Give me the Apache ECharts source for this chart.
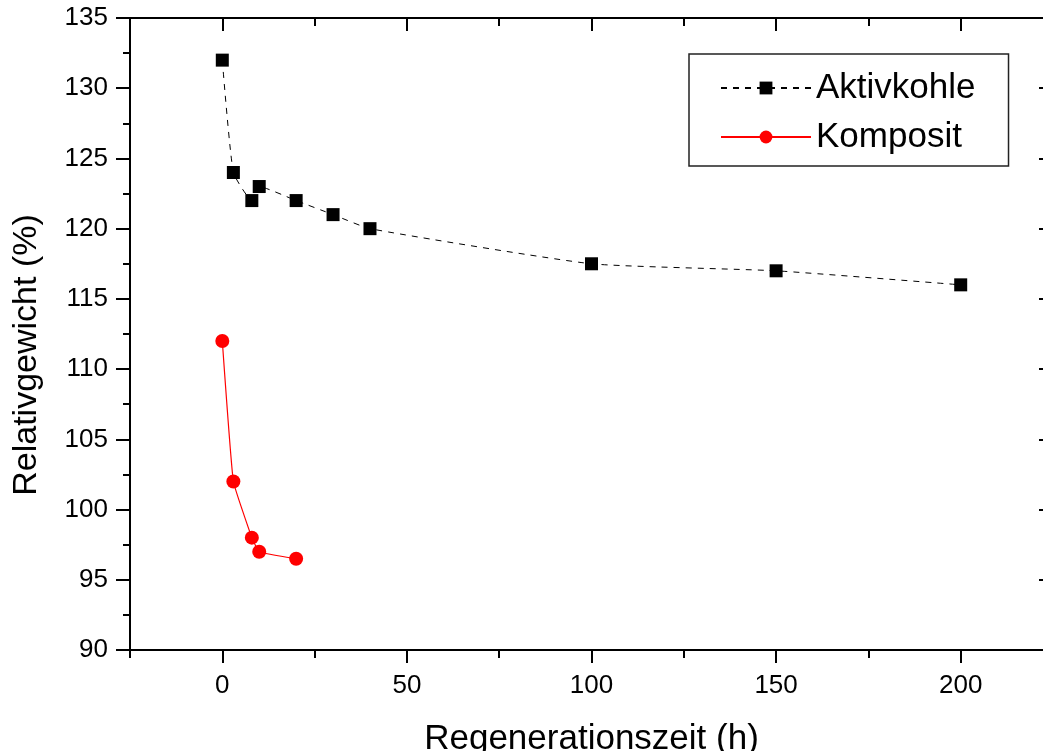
<!DOCTYPE html>
<html>
<head>
<meta charset="utf-8">
<script src="https://cdn.jsdelivr.net/npm/echarts@6/dist/echarts.min.js"></script>
<style>
  html, body { margin: 0; padding: 0; background: #fff; }
  #chart { width: 1043px; height: 751px; }
</style>
</head>
<body>
<div id="chart"></div>
<script>
// Regeneration time (h) and relative weight (%) for both materials
const aktivkohleTime   = [0, 3, 8, 10, 20, 30, 40, 100, 150, 200];
const aktivkohleWeight = [132, 124, 122, 123, 122, 121, 120, 117.5, 117, 116];
const kompositTime     = [0, 3, 8, 10, 20];
const kompositWeight   = [112, 102, 98, 97, 96.5];

const xMajorTicks = [0, 50, 100, 150, 200];
const xMinorTicks = [-25, 25, 75, 125, 175, 225];

const FONT = '"Liberation Sans", Arial, sans-serif';

const pairs = (xs, ys) => xs.map((x, i) => [x, ys[i]]);

const lineStyle = { color: '#000', width: 2 };
const xBase = { type: 'value', min: -25, max: 225, gridIndex: 0, splitLine: { show: false } };

const chart = echarts.init(document.getElementById('chart'));
chart.setOption({
  animation: false,
  backgroundColor: '#fff',
  textStyle: { fontFamily: FONT },
  grid: { left: 130, right: -10, top: 18, bottom: 101, containLabel: false, outerBoundsMode: 'none' },
  xAxis: [
    { ...xBase, position: 'bottom',
      name: 'Regenerationszeit (h)', nameLocation: 'middle', nameGap: 72,
      nameTextStyle: { fontSize: 35, color: '#000', fontFamily: FONT },
      axisLine: { show: true, onZero: false, lineStyle },
      axisTick: { show: true, inside: false, length: 13, customValues: xMajorTicks, lineStyle },
      axisLabel: { show: true, customValues: xMajorTicks, fontSize: 26, color: '#000', margin: 23, fontFamily: FONT } },
    { ...xBase, position: 'bottom',
      axisLine: { show: false, onZero: false },
      axisTick: { show: true, inside: false, length: 8, customValues: xMinorTicks, lineStyle },
      axisLabel: { show: false } },
    { ...xBase, position: 'top',
      axisLine: { show: true, onZero: false, lineStyle },
      axisTick: { show: true, inside: true, length: 13, customValues: xMajorTicks, lineStyle },
      axisLabel: { show: false } },
    { ...xBase, position: 'top',
      axisLine: { show: false, onZero: false },
      axisTick: { show: true, inside: true, length: 8, customValues: xMinorTicks, lineStyle },
      axisLabel: { show: false } }
  ],
  yAxis: [
    { type: 'value', min: 90, max: 135, interval: 5, position: 'left',
      name: 'Relativgewicht (%)', nameLocation: 'middle', nameGap: 86,
      nameTextStyle: { fontSize: 34, color: '#000', fontFamily: FONT, padding: [0, 42, 0, 0] },
      axisLine: { show: true, onZero: false, lineStyle },
      axisTick: { show: true, inside: false, length: 14, lineStyle },
      minorTick: { show: true, splitNumber: 2, length: 7, lineStyle },
      axisLabel: { fontSize: 26, color: '#000', margin: 22, fontFamily: FONT },
      splitLine: { show: false } },
    { type: 'value', min: 90, max: 135, interval: 5, position: 'right',
      axisLine: { show: true, onZero: false, lineStyle },
      axisTick: { show: true, inside: true, length: 14, lineStyle },
      minorTick: { show: true, splitNumber: 2, length: 7, lineStyle },
      axisLabel: { show: false },
      splitLine: { show: false } }
  ],
  legend: {
    orient: 'vertical',
    left: 689, top: 54,
    padding: [16, 33, 11, 31],
    itemGap: 13,
    itemWidth: 90, itemHeight: 16,
    borderColor: '#222', borderWidth: 1.5,
    textStyle: { fontSize: 35, color: '#000', lineHeight: 36, fontFamily: FONT },
    data: ['Aktivkohle', 'Komposit']
  },
  series: [
    { name: 'Aktivkohle', type: 'line', xAxisIndex: 0, yAxisIndex: 0,
      data: pairs(aktivkohleTime, aktivkohleWeight),
      smooth: 0.15,
      symbol: 'rect', symbolSize: 13,
      itemStyle: { color: '#000' },
      lineStyle: { color: '#000', width: 1, type: [6, 6] } },
    { name: 'Komposit', type: 'line', xAxisIndex: 0, yAxisIndex: 0,
      data: pairs(kompositTime, kompositWeight),
      smooth: 0.1,
      symbol: 'circle', symbolSize: 14,
      itemStyle: { color: '#ff0000' },
      lineStyle: { color: '#ff0000', width: 1.2 } }
  ]
});
</script>
</body>
</html>
